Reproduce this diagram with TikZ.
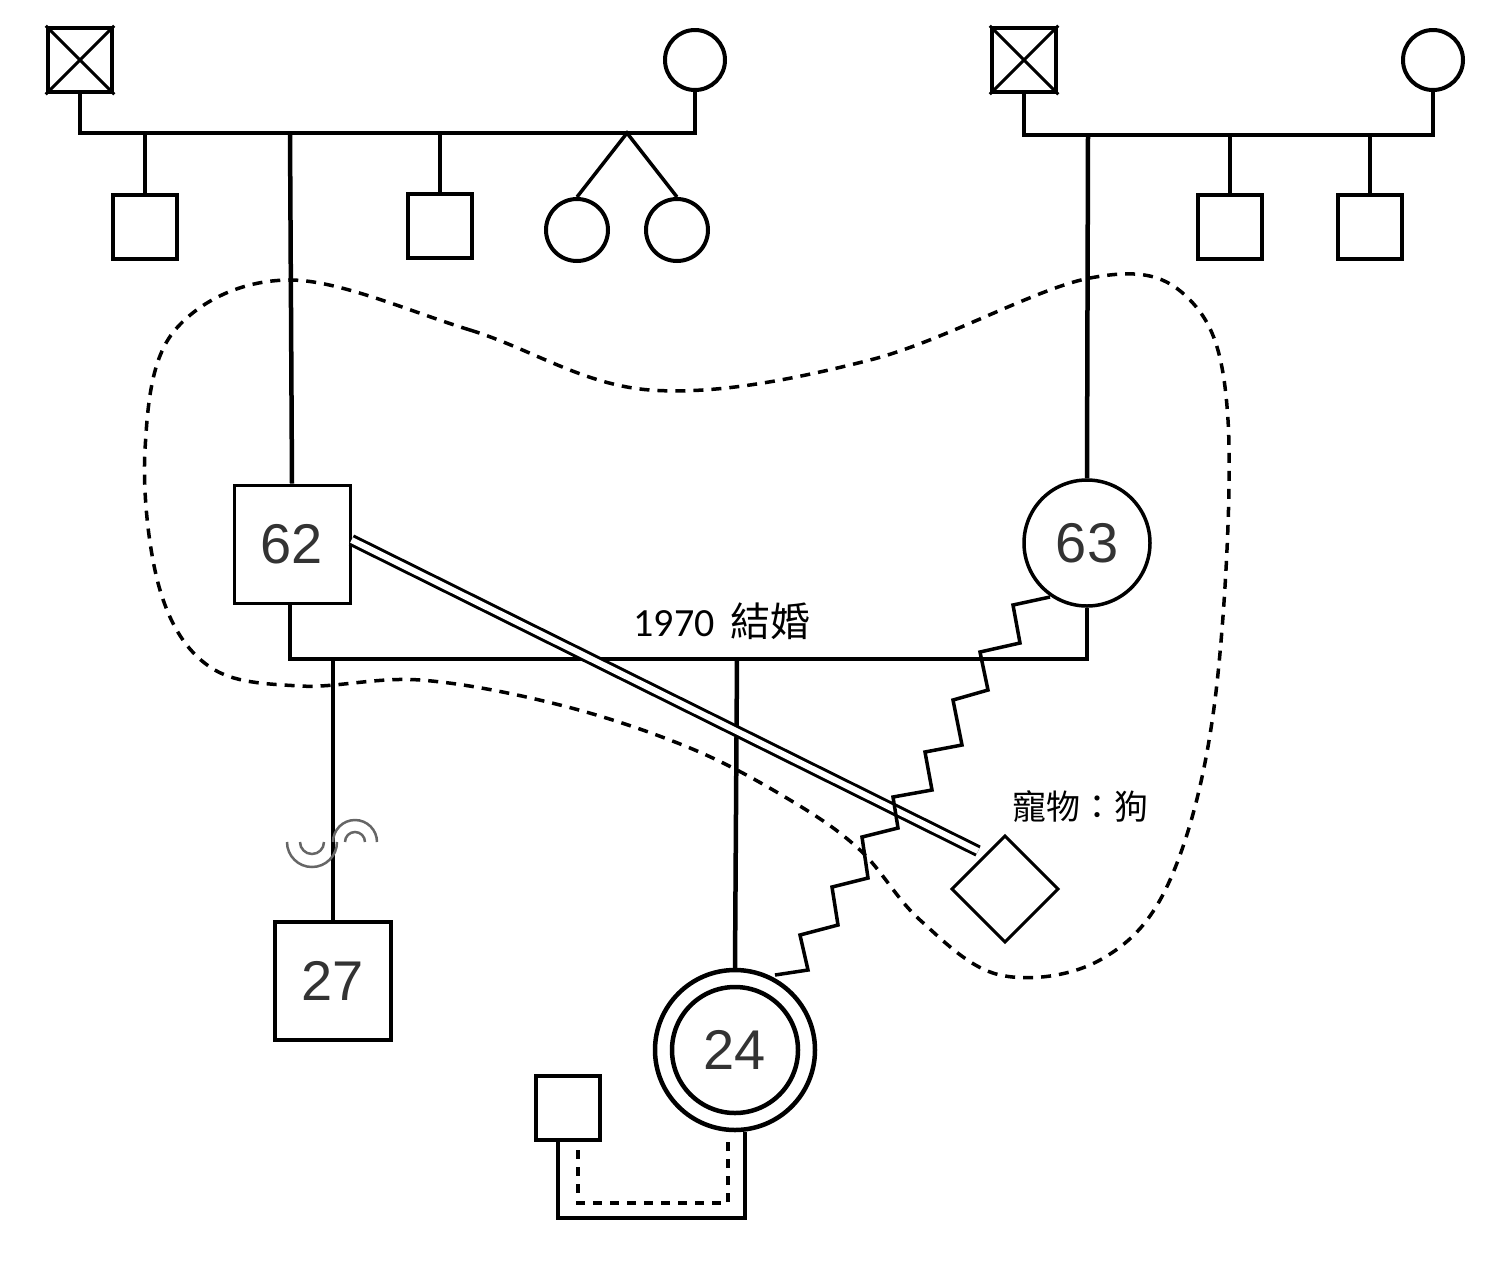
\documentclass[tikz,border=0pt]{standalone}
\usepackage{fontspec}
\setmainfont{Liberation Sans}
\newfontfamily\cjk{Noto Sans CJK TC}
\newfontfamily\calfont{Carlito}
\begin{document}
\begin{tikzpicture}[x=1pt,y=-1pt,
  ln/.style={line width=4.5pt,line cap=square},
  th/.style={line width=3.5pt},
  sq/.style={draw,line width=4.5pt,minimum size=64pt,inner sep=0pt},
  ci/.style={draw,circle,line width=4pt,minimum size=60pt,inner sep=0pt},
  big/.style={font=\fontsize{56}{56}\selectfont,text=black!80}]
\useasboundingbox (0,0) rectangle (1500,1270);
% left family
\node[sq] (gfL) at (80,60) {};
\draw[line width=3pt] (gfL.north west)--(gfL.south east) (gfL.north east)--(gfL.south west);
\node[ci] (gmL) at (695,60) {};
\draw[ln] (gfL.south) |- (80,133) -- (695,133) -- (gmL.south);
\node[sq] (c1) at (145,227) {};
\node[sq] (c3) at (440,226) {};
\node[ci,minimum size=62pt] (t1) at (577,230) {};
\node[ci,minimum size=62pt] (t2) at (677,230) {};
\coordinate (ap) at (627,133);
\draw[ln] (145,133) -- (c1.north);
\draw[ln] (440,133) -- (c3.north);
\draw[th] (t1.north) -- (ap) -- (t2.north);
% right family
\node[sq] (gfR) at (1024,60) {};
\draw[line width=3pt] (gfR.north west)--(gfR.south east) (gfR.north east)--(gfR.south west);
\node[ci] (gmR) at (1433,60) {};
\draw[ln] (gfR.south) |- (1024,135) -- (1433,135) -- (gmR.south);
\node[sq] (r1) at (1230,227) {};
\node[sq] (r2) at (1370,227) {};
\draw[ln] (1230,135) -- (r1.north);
\draw[ln] (1370,135) -- (r2.north);
% parents
\node[draw,line width=3pt,minimum width=116pt,minimum height=118pt,big] (f) at (292,544) {62};
\node[draw,circle,line width=3.5pt,minimum size=126pt,inner sep=0pt,big] (m) at (1087,543) {63};
\draw[ln] (290,133) -- (f.north);
\draw[ln] (1088,135) -- (m.north);
\draw[ln] (290,603) -- (290,659) -- (1087,659) -- (m.south);
\node[font=\fontsize{40}{40}\selectfont] (mar) at (722,621) {{\calfont 1970}\hspace{16pt}{\cjk 結婚}};
% children
\node[draw,line width=4.5pt,minimum width=116pt,minimum height=118pt,big] (s27) at (333,981) {27};
\node[draw,circle,line width=4.5pt,minimum size=160pt,inner sep=0pt] (d24o) at (735,1050) {};
\node[draw,circle,line width=4.5pt,minimum size=126pt,inner sep=0pt,big] (d24) at (735,1050) {24};
\draw[ln] (333,659) -- (s27.north);
\draw[ln] (737,659) -- (d24o.north);
% cutoff symbol
\draw[line width=2.5pt,black!60] (287,842) arc[start angle=180,end angle=0,radius=25];
\draw[line width=2.5pt,black!60] (300,842) arc[start angle=180,end angle=0,radius=12];
\draw[line width=2.5pt,black!60] (333,842) arc[start angle=180,end angle=360,radius=22];
\draw[line width=2.5pt,black!60] (345,842) arc[start angle=180,end angle=360,radius=10];
% partner of 24
\node[sq] (p) at (568,1108) {};
\draw[ln] (558,1140) -- (558,1218) -- (745,1218) -- (745,1132);
\draw[line width=4.5pt,dash pattern=on 9pt off 8pt] (578,1150) -- (578,1203) -- (728,1203) -- (728,1135);
% pet
\node[draw,line width=3pt,minimum size=75pt,rotate=45,inner sep=0pt] (dog) at (1005,889) {};
\node[font=\fontsize{34}{34}\selectfont\cjk] (pet) at (1080,807) {寵物：狗};
\coordinate (dogtip) at (978,851);
\draw[line width=3pt,double=white,double distance=6pt] (f.east |- 0,540) -- (dogtip);
% zigzag
\draw[th,line join=miter] (1050,597) -- (1013,605) -- (1020,643) -- (980,652) -- (988,690) -- (953,700) -- (962,745) -- (925,752) -- (932,790) -- (893,797) -- (898,828) -- (862,837) -- (868,878) -- (832,887) -- (838,925) -- (800,935) -- (808,970) -- (775,975);
% dashed boundary
\draw[line width=3.5pt,dash pattern=on 10pt off 8pt] plot[smooth cycle,tension=0.6] coordinates {
 (290,280) (470,330) (650,390) (870,360) (1090,278) (1190,300) (1228,420) (1215,700) (1170,880) (1100,960) (1000,975) (920,920) (860,850) (790,800) (690,748) (560,705) (420,680) (300,686) (210,667) (160,590) (145,450) (175,330)};
\end{tikzpicture}
\end{document}
